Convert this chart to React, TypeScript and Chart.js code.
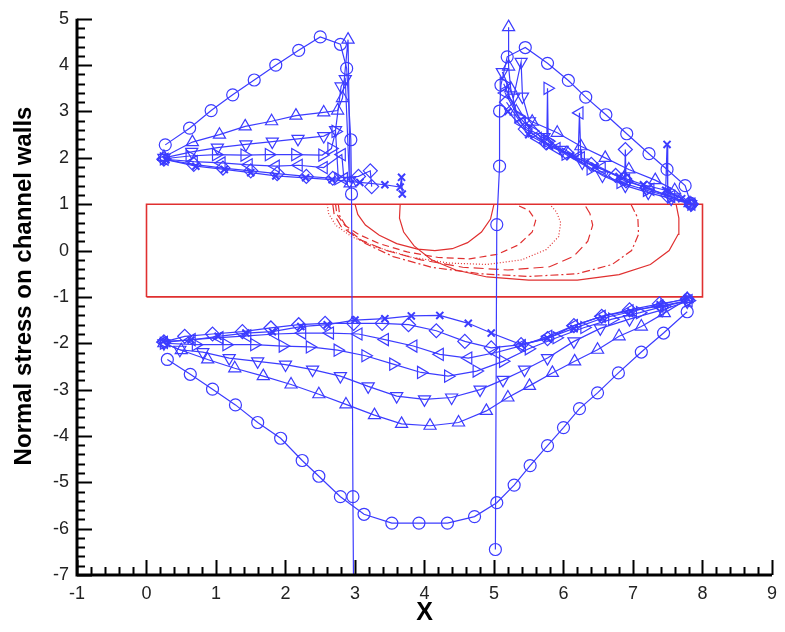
import React, { useEffect, useRef } from "react";
import { Chart, registerables } from "chart.js";
Chart.register(...registerables);

type P = [number, number];

const xRange = [-1, 9];
const yRange = [-7, 5];
const xTitle = "X";
const yTitle = "Normal stress on channel walls";

// ---------- upper wall, left of the first corner ----------
const circleUpperLeft: P[] = [[0.27,2.28],[0.62,2.64],[0.93,3.02],[1.24,3.36],[1.55,3.68],[1.86,4.0],[2.19,4.32],[2.5,4.61],[2.79,4.45],[2.88,3.93],[2.94,2.39],[2.95,1.22],[2.97,-5.31],[2.98,-7.5]];
const triUpUpperLeft: P[] = [[0.25,2.02],[0.66,2.34],[1.05,2.5],[1.42,2.68],[1.8,2.79],[2.15,2.91],[2.55,2.98],[2.75,3.02],[2.82,3.29],[2.9,4.55],[2.93,1.45]];
const triDownUpperLeft: P[] = [[0.25,2.0],[0.65,2.13],[1.02,2.22],[1.43,2.29],[1.81,2.35],[2.18,2.41],[2.55,2.47],[2.72,2.6],[2.8,3.54],[2.86,3.7],[2.92,1.5]];
const triRightUpperLeft: P[] = [[0.25,1.98],[0.62,2.04],[1.0,2.07],[1.41,2.06],[1.76,2.07],[2.14,2.07],[2.53,2.06],[2.66,2.2],[2.72,2.57],[2.76,1.55]];
const triLeftUpperLeft: P[] = [[0.26,1.97],[0.68,1.92],[1.08,1.89],[1.47,1.85],[1.86,1.82],[2.19,1.84],[2.55,1.79],[2.81,2.07],[2.84,1.55]];
const diamondUpperLeft: P[] = [[0.25,1.97],[0.68,1.86],[1.1,1.78],[1.5,1.72],[1.88,1.66],[2.3,1.6],[2.68,1.56],[3.05,1.6],[3.22,1.72],[3.24,1.38]];
const crossUpperLeft: P[] = [[0.28,1.96],[0.71,1.82],[1.12,1.75],[1.5,1.68],[1.86,1.61],[2.29,1.57],[2.67,1.53],[3.07,1.47],[3.43,1.42],[3.65,1.37],[3.67,1.58],[3.68,1.22]];

// ---------- upper wall, right of the second corner ----------
const circleUpperRight: P[] = [[5.02,-6.45],[5.04,0.56],[5.08,1.82],[5.08,3.01],[5.1,3.57],[5.19,4.18],[5.45,4.38],[5.77,4.04],[6.07,3.67],[6.32,3.31],[6.61,2.93],[6.91,2.52],[7.23,2.09],[7.49,1.75],[7.75,1.4],[7.83,1.02]];
const triUpUpperRight: P[] = [[5.21,4.82],[5.21,3.97],[5.24,3.5],[5.32,3.0],[5.55,2.78],[5.91,2.54],[6.25,2.25],[6.6,2.0],[6.94,1.75],[7.32,1.52],[7.6,1.3],[7.82,1.02]];
const triDownUpperRight: P[] = [[5.12,3.85],[5.28,3.3],[5.39,4.07],[5.41,3.32],[5.51,2.79],[5.72,2.45],[5.98,2.17],[6.27,1.9],[6.56,1.62],[6.89,1.4],[7.22,1.25],[7.55,1.12],[7.83,1.0]];
const triRightUpperRight: P[] = [[5.14,3.6],[5.35,2.9],[5.55,2.58],[5.76,2.38],[5.77,3.5],[5.78,2.36],[6.03,2.08],[6.39,1.76],[6.82,1.47],[7.2,1.3],[7.55,1.15],[7.84,1.0]];
const triLeftUpperRight: P[] = [[5.16,3.4],[5.4,2.75],[5.63,2.42],[5.9,2.2],[6.21,2.02],[6.23,2.97],[6.25,2.0],[6.55,1.78],[6.9,1.52],[7.25,1.32],[7.55,1.17],[7.84,1.0]];
const diamondUpperRight: P[] = [[5.18,3.2],[5.45,2.62],[5.75,2.32],[6.05,2.1],[6.4,1.86],[6.75,1.62],[6.88,1.55],[6.89,2.18],[6.9,1.5],[7.2,1.35],[7.5,1.18],[7.84,1.0]];
const crossUpperRight: P[] = [[5.2,3.0],[5.5,2.5],[5.8,2.25],[6.1,2.05],[6.45,1.82],[6.8,1.6],[7.15,1.42],[7.47,1.3],[7.49,2.29],[7.5,1.28],[7.7,1.12],[7.85,1.0]];

// ---------- lower wall ----------
const circleLower: P[] = [[0.3,-2.35],[0.63,-2.67],[0.95,-2.99],[1.28,-3.33],[1.6,-3.71],[1.93,-4.05],[2.24,-4.53],[2.48,-4.87],[2.79,-5.31],[3.13,-5.69],[3.53,-5.88],[3.92,-5.88],[4.33,-5.88],[4.72,-5.74],[5.04,-5.44],[5.29,-5.06],[5.52,-4.64],[5.77,-4.21],[6.0,-3.82],[6.23,-3.41],[6.49,-3.07],[6.79,-2.64],[7.12,-2.19],[7.44,-1.78],[7.78,-1.32]];
const triUpLower: P[] = [[0.25,-2.0],[0.5,-2.15],[0.88,-2.35],[1.27,-2.54],[1.68,-2.71],[2.08,-2.89],[2.48,-3.1],[2.87,-3.32],[3.28,-3.55],[3.67,-3.74],[4.08,-3.78],[4.49,-3.71],[4.89,-3.46],[5.2,-3.17],[5.51,-2.92],[5.84,-2.64],[6.16,-2.39],[6.49,-2.14],[6.8,-1.85],[7.12,-1.64],[7.45,-1.35],[7.78,-1.05]];
const triDownLower: P[] = [[0.25,-2.0],[0.48,-2.14],[0.81,-2.19],[1.19,-2.32],[1.6,-2.39],[2.0,-2.46],[2.39,-2.57],[2.79,-2.71],[3.19,-2.93],[3.6,-3.14],[4.0,-3.21],[4.39,-3.17],[4.8,-3.0],[5.13,-2.79],[5.44,-2.57],[5.77,-2.32],[6.15,-1.96],[6.53,-1.68],[6.95,-1.48],[7.42,-1.28],[7.78,-1.1]];
const triRightLower: P[] = [[0.25,-2.0],[0.71,-2.03],[1.15,-2.03],[1.55,-2.03],[1.96,-2.06],[2.35,-2.08],[2.75,-2.15],[3.15,-2.27],[3.55,-2.45],[3.95,-2.63],[4.34,-2.71],[4.75,-2.6],[5.13,-2.39],[5.5,-2.12],[5.9,-1.88],[6.3,-1.66],[6.7,-1.48],[7.1,-1.34],[7.45,-1.2],[7.8,-1.08]];
const triLeftLower: P[] = [[0.25,-1.98],[0.65,-1.92],[1.05,-1.88],[1.45,-1.84],[1.85,-1.8],[2.24,-1.78],[2.64,-1.78],[3.05,-1.8],[3.43,-1.92],[3.84,-2.06],[4.22,-2.24],[4.63,-2.32],[5.03,-2.2],[5.4,-2.05],[5.78,-1.85],[6.15,-1.62],[6.55,-1.42],[6.95,-1.3],[7.38,-1.2],[7.8,-1.08]];
const diamondLower: P[] = [[0.25,-1.97],[0.55,-1.85],[0.95,-1.8],[1.38,-1.75],[1.79,-1.67],[2.19,-1.6],[2.57,-1.57],[2.98,-1.57],[3.39,-1.57],[3.77,-1.6],[4.17,-1.73],[4.58,-1.96],[4.96,-2.1],[5.39,-2.03],[5.77,-1.9],[6.15,-1.62],[6.55,-1.42],[6.95,-1.28],[7.38,-1.15],[7.78,-1.05]];
const crossLower: P[] = [[0.24,-1.96],[0.64,-1.93],[1.03,-1.85],[1.43,-1.78],[1.81,-1.75],[2.22,-1.64],[2.6,-1.6],[3.0,-1.5],[3.43,-1.47],[3.81,-1.41],[4.22,-1.4],[4.63,-1.57],[4.96,-1.78],[5.39,-2.03],[5.77,-1.89],[6.15,-1.68],[6.56,-1.46],[6.97,-1.32],[7.39,-1.17],[7.78,-1.03]];

// ---------- channel outline and contour lines ----------
const channelBox: P[] = [[0,-1],[8,-1],[8,1],[0,1],[0,-1]];
const contourSolidSmall: P[] = [[3.0,1],[3.04,0.78],[3.15,0.55],[3.35,0.33],[3.6,0.15],[3.9,0.03],[4.15,0.0],[4.4,0.04],[4.62,0.17],[4.82,0.4],[4.95,0.68],[5.0,1]];
const contourDashA: P[] = [[2.72,1],[2.74,0.78],[2.85,0.55],[3.05,0.35],[3.35,0.15],[3.75,-0.03],[4.2,-0.15],[4.65,-0.18],[5.05,-0.08],[5.35,0.12],[5.55,0.4],[5.6,0.65],[5.5,0.87],[5.3,1]];
const contourDotted: P[] = [[2.6,1],[2.62,0.8],[2.72,0.55],[2.95,0.3],[3.3,0.08],[3.8,-0.14],[4.35,-0.27],[4.9,-0.3],[5.4,-0.2],[5.75,0.02],[5.93,0.3],[5.96,0.6],[5.9,0.83],[5.8,1]];
const contourDashB: P[] = [[2.68,1],[2.7,0.78],[2.8,0.52],[3.05,0.25],[3.45,0.0],[3.95,-0.2],[4.55,-0.36],[5.2,-0.42],[5.8,-0.35],[6.15,-0.12],[6.35,0.2],[6.42,0.55],[6.38,0.8],[6.3,1]];
const contourDashDot: P[] = [[2.76,1],[2.78,0.75],[2.9,0.45],[3.15,0.15],[3.55,-0.13],[4.1,-0.36],[4.8,-0.5],[5.5,-0.56],[6.2,-0.5],[6.7,-0.3],[6.98,0.0],[7.08,0.35],[7.07,0.7],[6.97,1]];
const contourSolidLarge: P[] = [[3.65,1],[3.64,0.7],[3.7,0.4],[3.85,0.1],[4.1,-0.2],[4.45,-0.42],[4.9,-0.57],[5.5,-0.64],[6.2,-0.64],[6.8,-0.52],[7.25,-0.3],[7.52,0.0],[7.65,0.35],[7.66,0.7],[7.62,1]];

const BLUE = "#3c3cff";
const RED = "#e03030";

type Marker = { style: string; rotation: number; radius: number };
const markers: Record<string, Marker> = {
  circle: { style: "circle", rotation: 0, radius: 6 },
  triUp: { style: "triangle", rotation: 0, radius: 7 },
  triDown: { style: "triangle", rotation: 180, radius: 7 },
  triRight: { style: "triangle", rotation: 90, radius: 7 },
  triLeft: { style: "triangle", rotation: 270, radius: 7 },
  diamond: { style: "rectRot", rotation: 0, radius: 7 },
  cross: { style: "crossRot", rotation: 0, radius: 5 },
};

const blueSeries: [string, P[]][] = [
  ["circle", circleUpperLeft], ["triUp", triUpUpperLeft], ["triDown", triDownUpperLeft],
  ["triRight", triRightUpperLeft], ["triLeft", triLeftUpperLeft], ["diamond", diamondUpperLeft], ["cross", crossUpperLeft],
  ["circle", circleUpperRight], ["triUp", triUpUpperRight], ["triDown", triDownUpperRight],
  ["triRight", triRightUpperRight], ["triLeft", triLeftUpperRight], ["diamond", diamondUpperRight], ["cross", crossUpperRight],
  ["circle", circleLower], ["triUp", triUpLower], ["triDown", triDownLower],
  ["triRight", triRightLower], ["triLeft", triLeftLower], ["diamond", diamondLower], ["cross", crossLower],
];

const redSeries: [P[], number[], number][] = [
  [channelBox, [], 1.6],
  [contourSolidSmall, [], 1.2],
  [contourDashA, [7, 4], 1.2],
  [contourDotted, [1, 2], 1.2],
  [contourDashB, [10, 5], 1.2],
  [contourDashDot, [8, 3, 2, 3], 1.2],
  [contourSolidLarge, [], 1.2],
];

const toXY = (pts: P[]) => pts.map(([x, y]) => ({ x, y }));

const tecAxes = {
  id: "tecAxes",
  afterDraw(chart: any) {
    const { ctx, chartArea, scales } = chart;
    const xs = scales.x;
    const ys = scales.y;
    ctx.save();
    ctx.strokeStyle = "#000";
    ctx.lineWidth = 2;
    ctx.beginPath();
    for (let i = 0; i <= 50; i++) {
      const v = xRange[0] + i * 0.2;
      const px = Math.round(xs.getPixelForValue(v)) + 0.5;
      const len = i % 5 === 0 ? 15 : 8;
      ctx.moveTo(px, chartArea.bottom);
      ctx.lineTo(px, chartArea.bottom - len);
    }
    for (let i = 0; i <= 60; i++) {
      const v = yRange[0] + i * 0.2;
      const py = Math.round(ys.getPixelForValue(v)) + 0.5;
      const len = i % 5 === 0 ? 15 : 8;
      ctx.moveTo(chartArea.left, py);
      ctx.lineTo(chartArea.left + len, py);
    }
    ctx.stroke();
    ctx.lineWidth = 3;
    ctx.beginPath();
    ctx.moveTo(chartArea.left, chartArea.top);
    ctx.lineTo(chartArea.left, chartArea.bottom);
    ctx.lineTo(chartArea.right, chartArea.bottom);
    ctx.stroke();

    ctx.fillStyle = "#000";
    ctx.font = 'bold 25px "Liberation Sans", Arial, sans-serif';
    ctx.textAlign = "center";
    ctx.textBaseline = "middle";
    ctx.fillText(xTitle, (chartArea.left + chartArea.right) / 2, 613);
    ctx.translate(24, 286);
    ctx.rotate(-Math.PI / 2);
    ctx.font = 'bold 24px "Liberation Sans", Arial, sans-serif';
    ctx.fillText(yTitle, 0, 0);
    ctx.restore();
  },
};

export default function App() {
  const ref = useRef<HTMLCanvasElement>(null);
  useEffect(() => {
    if (!ref.current) return;
    const datasets: any[] = [];
    blueSeries.forEach(([m, pts]) => {
      const mk = markers[m];
      datasets.push({
        data: toXY(pts),
        showLine: true,
        borderColor: BLUE,
        backgroundColor: "rgba(0,0,0,0)",
        borderWidth: 1.2,
        pointStyle: mk.style,
        pointRotation: mk.rotation,
        pointRadius: mk.radius,
        pointBorderColor: BLUE,
        pointBorderWidth: m === "cross" ? 2 : 1.2,
        pointBackgroundColor: "rgba(0,0,0,0)",
        tension: 0,
        order: 1,
      });
    });
    redSeries.forEach(([pts, dash, w]) => {
      datasets.push({
        data: toXY(pts),
        showLine: true,
        borderColor: RED,
        borderWidth: w,
        borderDash: dash,
        pointRadius: 0,
        tension: 0,
        order: 2,
      });
    });
    const chart = new Chart(ref.current, {
      type: "scatter",
      data: { datasets },
      options: {
        responsive: false,
        animation: false,
        events: [],
        layout: { padding: { top: 15, right: 10, left: 0, bottom: 0 } },
        plugins: { legend: { display: false }, tooltip: { enabled: false } },
        scales: {
          x: {
            type: "linear",
            min: xRange[0],
            max: xRange[1],
            grid: { display: false, drawTicks: false },
            border: { display: false },
            ticks: { stepSize: 1, padding: 8, color: "#222", font: { family: '"Liberation Sans", Arial, sans-serif', size: 18 } },
            afterFit: (s: any) => { s.height = 57; },
          },
          y: {
            type: "linear",
            min: yRange[0],
            max: yRange[1],
            grid: { display: false, drawTicks: false },
            border: { display: false },
            ticks: { stepSize: 1, padding: 8, color: "#222", font: { family: '"Liberation Sans", Arial, sans-serif', size: 18 } },
            afterFit: (s: any) => { s.width = 77; },
          },
        },
      },
      plugins: [tecAxes],
    });
    return () => chart.destroy();
  }, []);
  return (
    <div style={{ position: "absolute", left: 0, top: 0, width: 785, height: 632, background: "#fff" }}>
      <canvas ref={ref} width={785} height={632} />
    </div>
  );
}
